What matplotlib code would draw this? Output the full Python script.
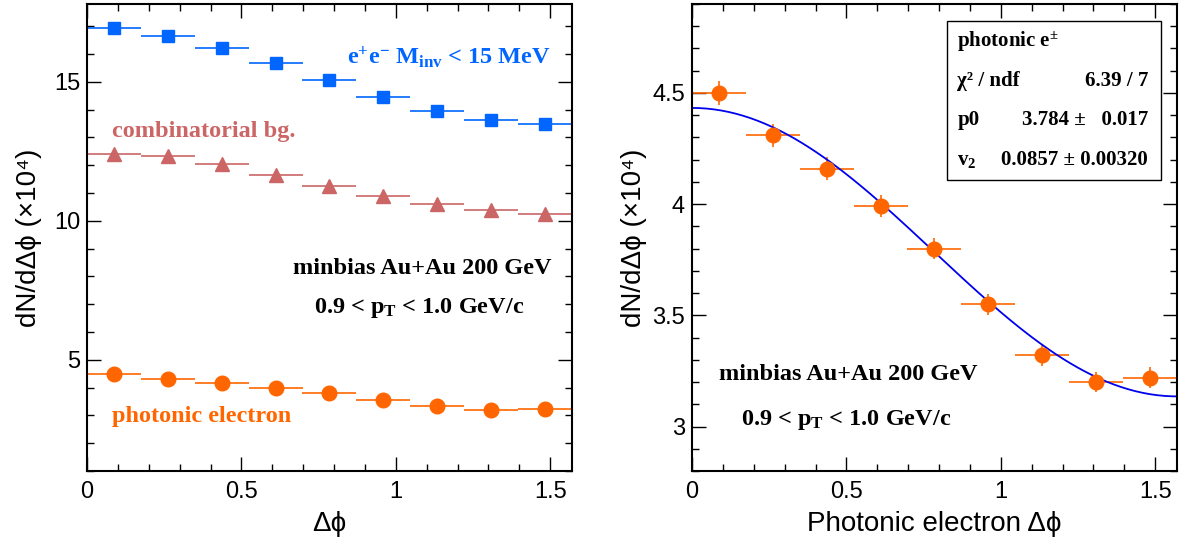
"""
Photonic electron dN/dDphi distributions and v2 fit (two panels).
"""

import numpy as np
import matplotlib
matplotlib.use("Agg")
import matplotlib.pyplot as plt
from matplotlib.patches import Rectangle
from matplotlib.ticker import MultipleLocator

plt.rcParams["mathtext.fontset"] = "custom"
plt.rcParams["mathtext.rm"] = "Liberation Serif:bold"
plt.rcParams["mathtext.it"] = "Liberation Serif:bold"
plt.rcParams["mathtext.bf"] = "Liberation Serif:bold"
plt.rcParams["font.family"] = ["Liberation Sans", "DejaVu Sans"]

# bin centres / half width (9 bins over 0..pi/2)
dphi = [0.087, 0.262, 0.436, 0.611, 0.785, 0.960, 1.134, 1.309, 1.484]
half_bin = 0.0873

# left panel (x 10^4)
ee_pairs = [16.94, 16.65, 16.23, 15.68, 15.05, 14.46, 13.96, 13.61, 13.48]
comb_bg = [12.42, 12.32, 12.04, 11.66, 11.24, 10.89, 10.61, 10.39, 10.25]
photonic = [4.50, 4.31, 4.16, 3.99, 3.80, 3.55, 3.32, 3.20, 3.22]

# right panel errors
photonic_err = [0.052, 0.052, 0.050, 0.050, 0.049, 0.048, 0.047, 0.046, 0.046]

# fit result shown in the stats box
p0 = 3.784
v2 = 0.0857

BLUE = "#0066ff"
RED = "#cc6666"
ORANGE = "#ff6600"
SERIF = "Liberation Serif"
TXT = 17.5


def style_axes(ax, ymajor, yminor):
    ax.set_xlim(0, np.pi / 2)
    ax.xaxis.set_major_locator(MultipleLocator(0.5))
    ax.xaxis.set_minor_locator(MultipleLocator(0.1))
    ax.yaxis.set_major_locator(MultipleLocator(ymajor))
    ax.yaxis.set_minor_locator(MultipleLocator(yminor))
    ax.tick_params(which="both", direction="in", top=True, right=True, width=1.0)
    ax.tick_params(which="major", length=10, labelsize=17)
    ax.tick_params(axis="x", which="major", pad=7)
    ax.tick_params(axis="y", which="major", pad=5)
    ax.tick_params(which="minor", length=5)
    for sp in ax.spines.values():
        sp.set_linewidth(1.5)
    ax.xaxis.set_major_formatter(plt.FuncFormatter(lambda v, p: f"{v:g}"))
    ax.yaxis.set_major_formatter(plt.FuncFormatter(lambda v, p: f"{v:g}"))


fig = plt.figure(figsize=(11.87, 5.46), dpi=100)
ax1 = fig.add_axes([0.0733, 0.1374, 0.4086, 0.8553])
ax2 = fig.add_axes([0.5830, 0.1374, 0.4086, 0.8553])

# ---- left panel
err_kw = dict(linestyle="none", elinewidth=1.2, capsize=0)
ax1.errorbar(dphi, ee_pairs, xerr=half_bin, yerr=0.03, marker="s", markersize=9,
             color=BLUE, **err_kw)
ax1.errorbar(dphi, comb_bg, xerr=half_bin, yerr=0.03, marker="^", markersize=9.5,
             color=RED, **err_kw)
ax1.errorbar(dphi, photonic, xerr=half_bin, yerr=0.03, marker="o", markersize=10.5,
             color=ORANGE, **err_kw)
ax1.set_ylim(1.0, 17.8)
style_axes(ax1, 5, 1)

ax1.text(0.957, 0.886, r"e$^{+}$e$^{-}$ M$_{inv}$ < 15 MeV", transform=ax1.transAxes,
         ha="right", va="center", color=BLUE, fontsize=TXT, family=SERIF, weight="bold")
ax1.text(0.051, 0.727, "combinatorial bg.", transform=ax1.transAxes,
         ha="left", va="center", color=RED, fontsize=TXT, family=SERIF, weight="bold")
ax1.text(0.957, 0.433, "minbias Au+Au 200 GeV", transform=ax1.transAxes,
         ha="right", va="center", color="black", fontsize=TXT, family=SERIF, weight="bold")
ax1.text(0.685, 0.349, r"0.9 < p$_{T}$ < 1.0 GeV/c", transform=ax1.transAxes,
         ha="center", va="center", color="black", fontsize=TXT, family=SERIF, weight="bold")
ax1.text(0.051, 0.116, "photonic electron", transform=ax1.transAxes,
         ha="left", va="center", color=ORANGE, fontsize=TXT, family=SERIF, weight="bold")

ax1.set_ylabel("dN/dΔϕ (×10⁴)", fontsize=20)
ax1.yaxis.set_label_coords(-0.092, 0.5)
ax1.set_xlabel("Δϕ", fontsize=20)
ax1.xaxis.set_label_coords(0.5, -0.085)

# ---- right panel
ax2.errorbar(dphi, photonic, xerr=half_bin, yerr=photonic_err, marker="o",
             markersize=10.5, color=ORANGE, **err_kw)
xs = np.linspace(0, np.pi / 2, 200)
ax2.plot(xs, p0 * (1 + 2 * v2 * np.cos(2 * xs)), color="#0000ee", lw=1.3)
ax2.set_ylim(2.8, 4.9)
style_axes(ax2, 0.5, 0.1)

ax2.text(0.055, 0.206, "minbias Au+Au 200 GeV", transform=ax2.transAxes,
         ha="left", va="center", fontsize=TXT, family=SERIF, weight="bold")
ax2.text(0.100, 0.110, r"0.9 < p$_{T}$ < 1.0 GeV/c", transform=ax2.transAxes,
         ha="left", va="center", fontsize=TXT, family=SERIF, weight="bold")

# stats box
ax2.add_patch(Rectangle((0.526, 0.624), 0.441, 0.339, transform=ax2.transAxes,
                        facecolor="white", edgecolor="black", lw=1.0, zorder=5))
rows = [
    (r"photonic e$^{\pm}$", ""),
    ("χ² / ndf", "6.39 / 7"),
    ("p0", "3.784 ±   0.017"),
    (r"v$_{2}$", "0.0857 ± 0.00320"),
]
row_y = [0.918, 0.836, 0.752, 0.665]
for (left, right), y in zip(rows, row_y):
    ax2.text(0.547, y, left, transform=ax2.transAxes, ha="left", va="center",
             fontsize=15, family=SERIF, weight="bold", zorder=6)
    if right:
        ax2.text(0.940, y, right, transform=ax2.transAxes, ha="right", va="center",
                 fontsize=15, family=SERIF, weight="bold", zorder=6)

ax2.set_ylabel("dN/dΔϕ (×10⁴)", fontsize=20)
ax2.yaxis.set_label_coords(-0.092, 0.5)
ax2.set_xlabel("Photonic electron Δϕ", fontsize=20)
ax2.xaxis.set_label_coords(0.5, -0.085)

fig.savefig("out.png", dpi=100)
